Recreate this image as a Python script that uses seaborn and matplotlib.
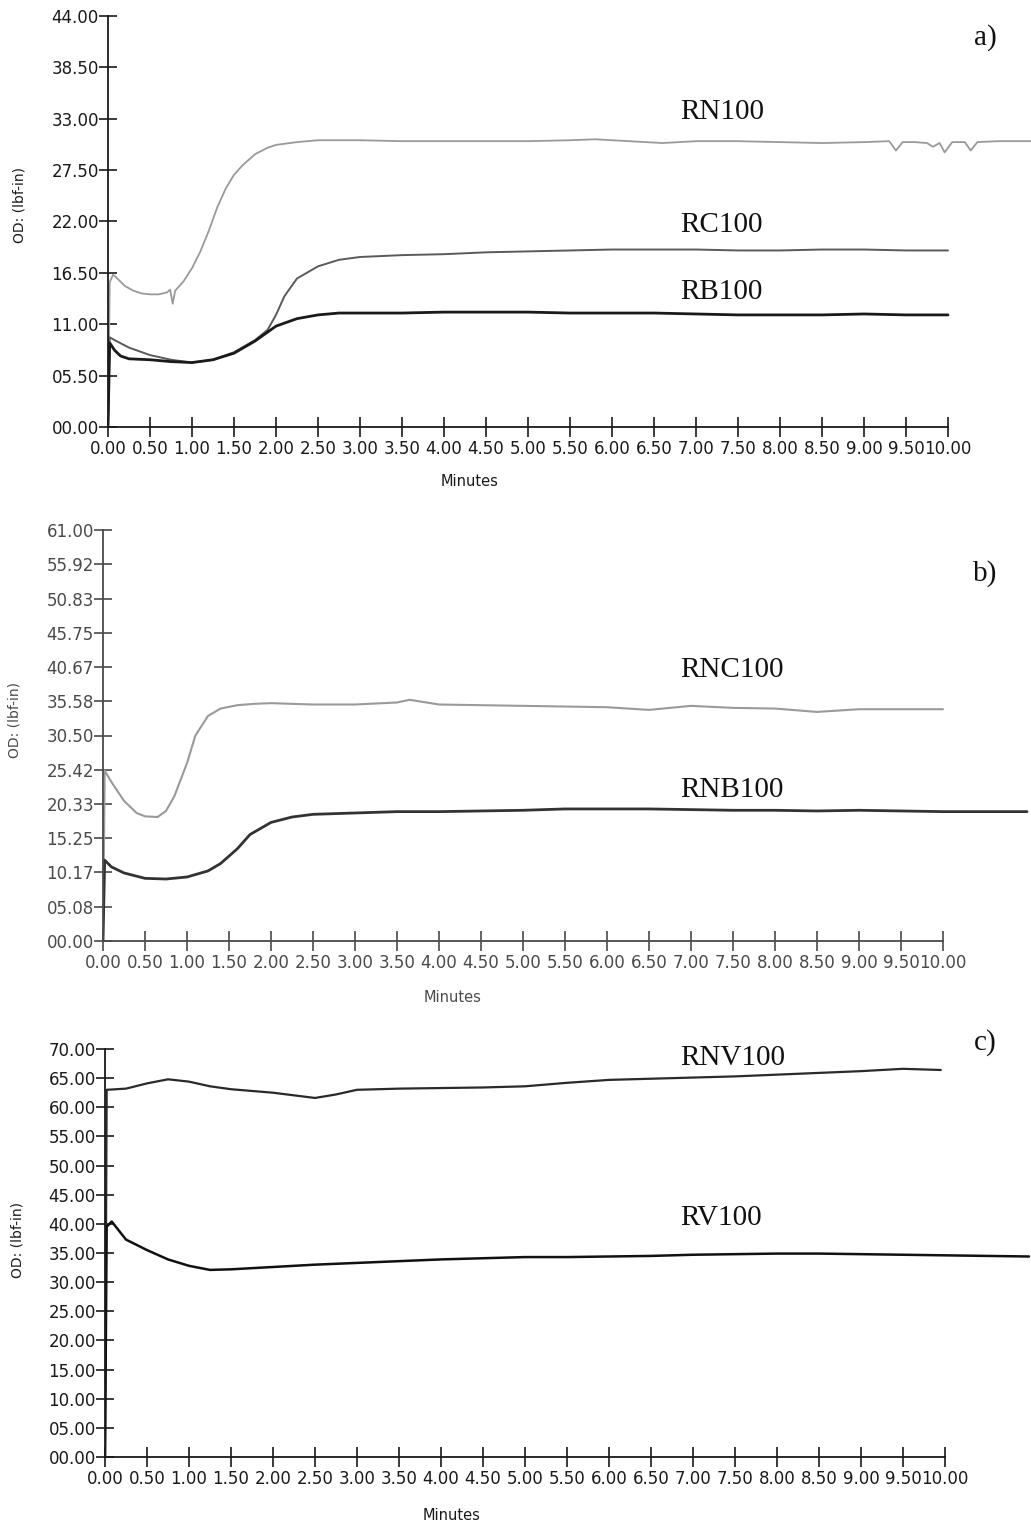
import matplotlib
matplotlib.use("Agg")
import matplotlib.pyplot as plt
import seaborn as sns
import pandas as pd

sns.set_theme(style="white")
plt.rcParams['font.family'] = ['DejaVu Sans']

# ---------------- data ----------------
# panel a
rn100_t = [0.0, 0.02, 0.06, 0.10, 0.20, 0.30, 0.40, 0.50, 0.60, 0.70, 0.74, 0.77, 0.80, 0.90,
           1.00, 1.10, 1.20, 1.30, 1.40, 1.50, 1.60, 1.75, 1.90, 2.00, 2.25, 2.50, 3.00, 3.50,
           4.00, 4.50, 5.00, 5.50, 5.80, 6.20, 6.60, 7.00, 7.50, 8.00, 8.50, 9.00, 9.30, 9.38,
           9.46, 9.60, 9.75, 9.82, 9.90, 9.96, 10.05, 10.20, 10.27, 10.35, 10.60, 11.0]
rn100_v = [0, 15.5, 16.3, 16.0, 15.1, 14.6, 14.3, 14.2, 14.2, 14.4, 14.7, 13.2, 14.6, 15.6,
           17.0, 18.8, 21.0, 23.5, 25.5, 27.0, 28.0, 29.2, 29.9, 30.2, 30.5, 30.7, 30.7, 30.6,
           30.6, 30.6, 30.6, 30.7, 30.8, 30.6, 30.4, 30.6, 30.6, 30.5, 30.4, 30.5, 30.6, 29.6,
           30.5, 30.5, 30.4, 30.0, 30.4, 29.4, 30.5, 30.5, 29.6, 30.5, 30.6, 30.6]

rc100_t = [0, 0.02, 0.10, 0.25, 0.50, 0.75, 1.00, 1.25, 1.50, 1.75, 1.90, 2.00, 2.10, 2.25,
           2.50, 2.75, 3.00, 3.50, 4.00, 4.50, 5.00, 5.50, 6.00, 6.50, 7.00, 7.50, 8.00, 8.50,
           9.00, 9.50, 10.0]
rc100_v = [0, 9.6, 9.2, 8.5, 7.7, 7.2, 6.9, 7.2, 8.0, 9.3, 10.4, 12.0, 14.0, 15.9,
           17.2, 17.9, 18.2, 18.4, 18.5, 18.7, 18.8, 18.9, 19.0, 19.0, 19.0, 18.9, 18.9, 19.0,
           19.0, 18.9, 18.9]

rb100_t = [0, 0.02, 0.08, 0.15, 0.25, 0.50, 0.75, 1.00, 1.25, 1.50, 1.75, 2.00, 2.25, 2.50,
           2.75, 3.00, 3.50, 4.00, 4.50, 5.00, 5.50, 6.00, 6.50, 7.00, 7.50, 8.00, 8.50, 9.00,
           9.50, 10.0]
rb100_v = [0, 9.0, 8.2, 7.6, 7.3, 7.2, 7.0, 6.9, 7.2, 7.9, 9.2, 10.8, 11.6, 12.0,
           12.2, 12.2, 12.2, 12.3, 12.3, 12.3, 12.2, 12.2, 12.2, 12.1, 12.0, 12.0, 12.0, 12.1,
           12.0, 12.0]

# panel b
rnc100_t = [0, 0.02, 0.10, 0.25, 0.40, 0.50, 0.65, 0.75, 0.85, 1.00, 1.10, 1.25, 1.40, 1.60,
            1.80, 2.00, 2.50, 3.00, 3.50, 3.65, 4.00, 4.50, 5.00, 5.50, 6.00, 6.50, 7.00, 7.50,
            8.00, 8.50, 9.00, 9.50, 10.0]
rnc100_v = [0, 25.3, 23.6, 20.8, 19.0, 18.5, 18.4, 19.3, 21.5, 26.4, 30.5, 33.4, 34.5, 35.0,
            35.2, 35.3, 35.1, 35.1, 35.4, 35.8, 35.1, 35.0, 34.9, 34.8, 34.7, 34.3, 34.9, 34.6,
            34.5, 34.0, 34.4, 34.4, 34.4]

rnb100_t = [0, 0.02, 0.10, 0.25, 0.50, 0.75, 1.00, 1.25, 1.40, 1.50, 1.60, 1.75, 2.00, 2.25,
            2.50, 3.00, 3.50, 4.00, 4.50, 5.00, 5.50, 6.00, 6.50, 7.00, 7.50, 8.00, 8.50, 9.00,
            9.50, 10.0, 10.5, 11.0]
rnb100_v = [0, 12.0, 11.0, 10.1, 9.3, 9.2, 9.5, 10.4, 11.5, 12.6, 13.7, 15.8, 17.6, 18.4,
            18.8, 19.0, 19.2, 19.2, 19.3, 19.4, 19.6, 19.6, 19.6, 19.5, 19.4, 19.4, 19.3, 19.4,
            19.3, 19.2, 19.2, 19.2]

# panel c
rnv100_t = [0, 0.02, 0.25, 0.50, 0.75, 1.00, 1.25, 1.50, 2.00, 2.50, 2.75, 3.00, 3.50, 4.00,
            4.50, 5.00, 5.50, 6.00, 6.50, 7.00, 7.50, 8.00, 8.50, 9.00, 9.50, 9.95]
rnv100_v = [0, 63.0, 63.2, 64.1, 64.8, 64.4, 63.6, 63.1, 62.5, 61.6, 62.2, 63.0, 63.2, 63.3,
            63.4, 63.6, 64.2, 64.7, 64.9, 65.1, 65.3, 65.6, 65.9, 66.2, 66.6, 66.4]

rv100_t = [0, 0.02, 0.08, 0.25, 0.50, 0.75, 1.00, 1.25, 1.50, 2.00, 2.50, 3.00, 3.50, 4.00,
           4.50, 5.00, 5.50, 6.00, 6.50, 7.00, 7.50, 8.00, 8.50, 9.00, 9.50, 10.0, 10.5, 11.0]
rv100_v = [0, 39.5, 40.4, 37.3, 35.5, 33.9, 32.8, 32.1, 32.2, 32.6, 33.0, 33.3, 33.6, 33.9,
           34.1, 34.3, 34.3, 34.4, 34.5, 34.7, 34.8, 34.9, 34.9, 34.8, 34.7, 34.6, 34.5, 34.4]

x_ticks = [0, 0.5, 1, 1.5, 2, 2.5, 3, 3.5, 4, 4.5, 5, 5.5, 6, 6.5, 7, 7.5, 8, 8.5, 9, 9.5, 10]
ya_ticks = [0, 5.5, 11, 16.5, 22, 27.5, 33, 38.5, 44]
yb_ticks = [0, 5.08, 10.17, 15.25, 20.33, 25.42, 30.50, 35.58, 40.67, 45.75, 50.83, 55.92, 61.00]
yc_ticks = [0, 5, 10, 15, 20, 25, 30, 35, 40, 45, 50, 55, 60, 65, 70]

# ---------------- figure ----------------
W, H = 1031, 1526
fig = plt.figure(figsize=(W / 100, H / 100), dpi=100)
fig.patch.set_facecolor("white")

PX_PER_MIN = 84.0

def make_axes(left_px, zero_px, top_px, yticks, tick_color):
    ax = fig.add_axes([left_px / W, 1 - zero_px / H, (W - left_px) / W, (zero_px - top_px) / H])
    ax.set_facecolor("none")
    ax.set_xlim(0, (W - left_px) / PX_PER_MIN)
    ax.set_ylim(0, yticks[-1])
    ax.set_xticks(x_ticks)
    ax.set_xticklabels(["%.2f" % v for v in x_ticks])
    ax.set_yticks(yticks)
    ax.set_yticklabels(["%05.2f" % v for v in yticks])
    for s in ["top", "right"]:
        ax.spines[s].set_visible(False)
    for s in ["left", "bottom"]:
        ax.spines[s].set_color(tick_color)
        ax.spines[s].set_linewidth(1.3)
    ax.spines["bottom"].set_bounds(0, 10)
    ax.spines["left"].set_bounds(0, yticks[-1])
    ax.tick_params(axis="x", direction="inout", length=15, width=1.2, pad=2,
                   labelsize=12, colors=tick_color, bottom=True, top=False)
    ax.tick_params(axis="y", direction="inout", length=13, width=1.2, pad=0,
                   labelsize=12, colors=tick_color, left=True, right=False)
    ax.grid(False)
    return ax

def draw(ax, t, v, color, lw):
    df = pd.DataFrame({"t": t, "v": v})
    sns.lineplot(data=df, x="t", y="v", ax=ax, color=color, lw=lw,
                 sort=False, estimator=None)
    ax.set_xlabel("")
    ax.set_ylabel("")

ax_a = make_axes(108, 427, 16, ya_ticks, "#1a1a1a")
draw(ax_a, rn100_t, rn100_v, "#9a9a9a", 1.3)
draw(ax_a, rc100_t, rc100_v, "#5a5a5a", 1.4)
draw(ax_a, rb100_t, rb100_v, "#1a1a1a", 2.0)

ax_b = make_axes(103, 941, 530, yb_ticks, "#4a4a4a")
draw(ax_b, rnc100_t, rnc100_v, "#9a9a9a", 1.5)
draw(ax_b, rnb100_t, rnb100_v, "#333333", 2.0)

ax_c = make_axes(105, 1457, 1049, yc_ticks, "#1a1a1a")
draw(ax_c, rnv100_t, rnv100_v, "#2a2a2a", 1.6)
draw(ax_c, rv100_t, rv100_v, "#111111", 1.8)

# ---------------- text ----------------
def ftext(xp, yp, s, **kw):
    fig.text(xp / W, 1 - yp / H, s, **kw)

serif = dict(family=["Liberation Serif", "DejaVu Serif"], color="#111111")
lab_size = 21
ftext(680, 112, "RN100", fontsize=lab_size, va="center", ha="left", **serif)
ftext(680, 225, "RC100", fontsize=lab_size, va="center", ha="left", **serif)
ftext(680, 292, "RB100", fontsize=lab_size, va="center", ha="left", **serif)
ftext(680, 670, "RNC100", fontsize=lab_size, va="center", ha="left", **serif)
ftext(680, 790, "RNB100", fontsize=lab_size, va="center", ha="left", **serif)
ftext(680, 1058, "RNV100", fontsize=lab_size, va="center", ha="left", **serif)
ftext(680, 1218, "RV100", fontsize=lab_size, va="center", ha="left", **serif)

ftext(985, 38, "a)", fontsize=lab_size, va="center", ha="center", **serif)
ftext(985, 574, "b)", fontsize=lab_size, va="center", ha="center", **serif)
ftext(985, 1043, "c)", fontsize=lab_size, va="center", ha="center", **serif)

ftext(470, 481, "Minutes", fontsize=10.5, va="center", ha="center", color="#1a1a1a")
ftext(453, 997, "Minutes", fontsize=10.5, va="center", ha="center", color="#4a4a4a")
ftext(452, 1515, "Minutes", fontsize=10.5, va="center", ha="center", color="#1a1a1a")

ftext(20, 205, "OD: (lbf-in)", fontsize=10, va="center", ha="center", rotation=90, color="#1a1a1a")
ftext(15, 720, "OD: (lbf-in)", fontsize=10, va="center", ha="center", rotation=90, color="#4a4a4a")
ftext(18, 1240, "OD: (lbf-in)", fontsize=10, va="center", ha="center", rotation=90, color="#1a1a1a")

fig.savefig("out.png", dpi=100, facecolor="white")
